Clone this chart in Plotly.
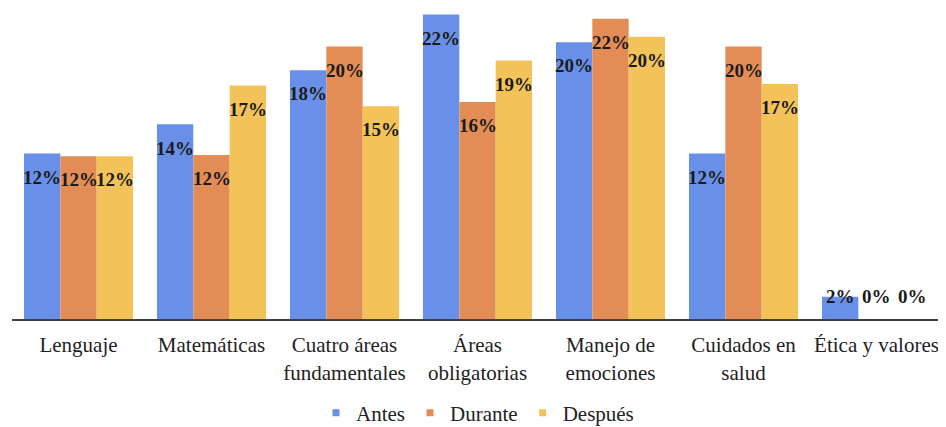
import plotly.graph_objects as go

categories = ["Lenguaje", "Matemáticas", "Cuatro áreas<br>fundamentales", "Áreas<br>obligatorias",
              "Manejo de<br>emociones", "Cuidados en<br>salud", "Ética y valores"]
series_names = ["Antes", "Durante", "Después"]
antes = [11.9, 14.0, 17.9, 21.9, 19.9, 11.9, 1.6]
durante = [11.7, 11.8, 19.6, 15.6, 21.6, 19.6, 0.0]
despues = [11.7, 16.8, 15.3, 18.6, 20.3, 16.9, 0.0]
colors = ["#6990E8", "#E38C55", "#F3C35A"]

series = [antes, durante, despues]
BARGAP = 0.18
label_drop = 1.7   # label centre sits just below the bar top (data units)
label_floor = 1.6  # small bars: labels rest at this level
SERIF = "'Liberation Serif', 'Times New Roman', 'DejaVu Serif', serif"

fig = go.Figure()
for name, vals, col in zip(series_names, series, colors):
    fig.add_trace(go.Bar(x=categories, y=vals, name=name, marker_color=col,
                         marker_line_width=0, showlegend=False, hoverinfo="skip"))
    fig.add_trace(go.Scatter(x=[None], y=[None], mode="markers", name=name,
                             marker=dict(symbol="square", size=7, color=col)))

bar_w = (1 - BARGAP) / len(series)
for si, vals in enumerate(series):
    off = (si - (len(series) - 1) / 2) * bar_w
    for ci, v in enumerate(vals):
        fig.add_annotation(x=ci + off, y=max(v - label_drop, label_floor), xref="x", yref="y",
                           text=f"<b>{round(v)}%</b>", showarrow=False, yanchor="middle",
                           font=dict(family=SERIF, size=19, color="#1a1a1a"))

# page body adds an 8px offset, so the figure is sized to fit the 946x427 window
fig.update_layout(
    template="none",
    width=938, height=419,
    margin=dict(l=4, r=3, t=0, b=108),
    barmode="group", bargap=BARGAP, bargroupgap=0,
    plot_bgcolor="white", paper_bgcolor="white",
    font=dict(family=SERIF, size=21, color="#222222"),
    legend=dict(orientation="h", x=0.5, xanchor="center", yref="container", y=0.033,
                yanchor="middle", font=dict(family=SERIF, size=21, color="#222222"),
                itemwidth=30, tracegroupgap=0),
    xaxis=dict(showline=True, linecolor="#404040", linewidth=2, ticks="", showgrid=False,
               zeroline=False, ticklabelstandoff=6,
               tickfont=dict(family=SERIF, size=21, color="#222222")),
    yaxis=dict(range=[0, 22.37], visible=False, showgrid=False, zeroline=False),
)
fig.write_html("out.html")
